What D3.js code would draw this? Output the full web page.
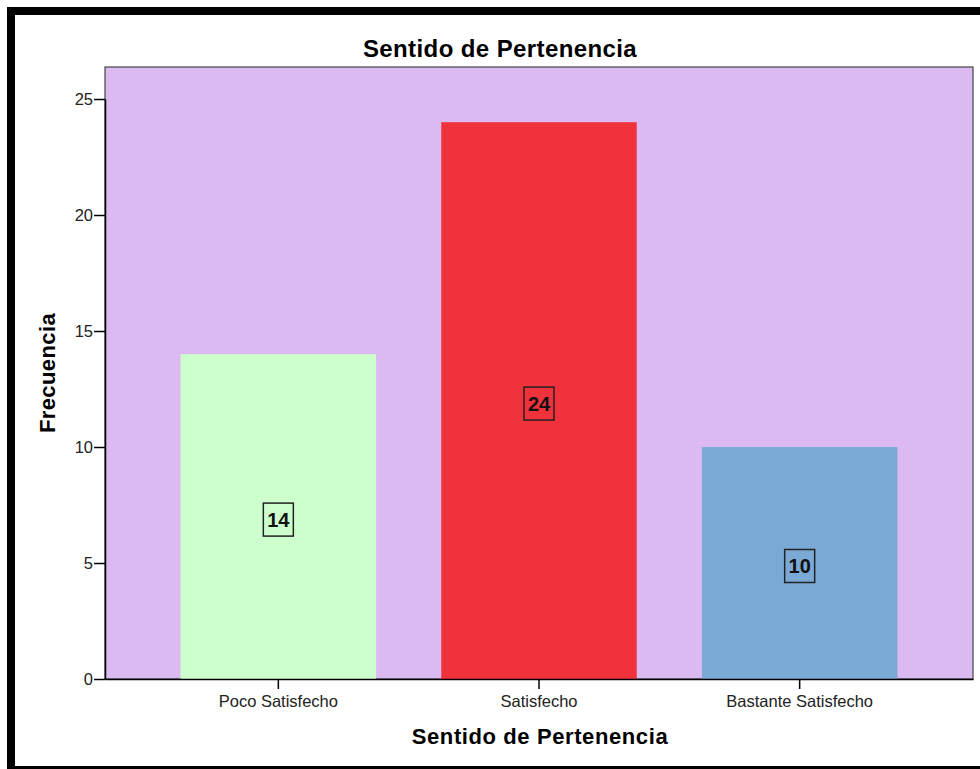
<!DOCTYPE html>
<html>
<head>
<meta charset="utf-8">
<script src="https://cdn.jsdelivr.net/npm/d3@7"></script>
<style>
  body { margin: 0; background: #fff; }
  svg { display: block; font-family: "Liberation Sans", Arial, sans-serif; }
</style>
</head>
<body>
<div id="chart"></div>
<script>
// data
var categories = ["Poco Satisfecho", "Satisfecho", "Bastante Satisfecho"];
var values = [14, 24, 10];
var barColors = ["#ccffcc", "#f0323c", "#7ba9d6"];
var yTicks = [0, 5, 10, 15, 20, 25];

var W = 980, H = 769;
// plot area edges (avoid the name "top", it's window.top)
var pLeft = 105, pRight = 973, pTop = 67, pBottom = 679;

var svg = d3.select("#chart").append("svg")
    .attr("width", W)
    .attr("height", H);

// outer frame: thick top and left, thin bottom, none on the right
svg.append("rect")
    .attr("x", 7).attr("y", 7)
    .attr("width", W - 7).attr("height", 8)
    .attr("fill", "#000");
svg.append("rect")
    .attr("x", 7).attr("y", 7)
    .attr("width", 8).attr("height", H - 7)
    .attr("fill", "#000");
svg.append("rect")
    .attr("x", 7).attr("y", 766)
    .attr("width", W - 7).attr("height", 3)
    .attr("fill", "#000");

var x = d3.scaleBand()
    .domain(categories)
    .range([pLeft, pRight])
    .paddingInner(0.25)
    .paddingOuter(0.29);

var y = d3.scaleLinear()
    .domain([0, 25])
    .range([pBottom, 99]);

// plot background
svg.append("rect")
    .attr("x", pLeft).attr("y", pTop)
    .attr("width", pRight - pLeft).attr("height", pBottom - pTop)
    .attr("fill", "#dcb9f1")
    .attr("stroke", "#444")
    .attr("stroke-width", 1.2);

// bars
svg.selectAll(".bar")
    .data(values)
    .enter().append("rect")
    .attr("class", "bar")
    .attr("x", function(d, i) { return x(categories[i]); })
    .attr("y", function(d) { return y(d); })
    .attr("width", x.bandwidth())
    .attr("height", function(d) { return pBottom - y(d); })
    .attr("fill", function(d, i) { return barColors[i]; });

// bar labels (boxed), sitting a little under the middle of the bar
var lab = svg.selectAll(".lab")
    .data(values)
    .enter().append("g")
    .attr("class", "lab")
    .attr("transform", function(d, i) {
        return "translate(" + (x(categories[i]) + x.bandwidth() / 2) + "," + (y(d / 2) + 3) + ")";
    });
lab.append("rect")
    .attr("x", -15).attr("y", -16.5)
    .attr("width", 30).attr("height", 33)
    .attr("fill", "none")
    .attr("stroke", "#222")
    .attr("stroke-width", 1.5);
lab.append("text")
    .attr("text-anchor", "middle")
    .attr("dy", "0.36em")
    .style("font-size", "20px")
    .style("font-weight", "bold")
    .style("fill", "#111")
    .text(function(d) { return d; });

// axes
var yAxis = svg.append("g")
    .attr("transform", "translate(" + pLeft + ",0)")
    .call(d3.axisLeft(y).tickValues(yTicks).tickSize(11).tickSizeOuter(0).tickPadding(1));
var xAxis = svg.append("g")
    .attr("transform", "translate(0," + pBottom + ")")
    .call(d3.axisBottom(x).tickSize(10).tickSizeOuter(0).tickPadding(6));

[yAxis, xAxis].forEach(function(a) {
    a.select(".domain").attr("stroke", "#000").attr("stroke-width", 1.5);
    a.selectAll(".tick line").attr("stroke", "#000").attr("stroke-width", 1.5);
    a.selectAll("text").style("font-size", "16.5px").style("fill", "#222")
        .style("font-family", "'Liberation Sans', Arial, sans-serif");
});

// titles
svg.append("text")
    .attr("x", 500).attr("y", 57)
    .attr("text-anchor", "middle")
    .style("font-size", "24px").style("font-weight", "bold")
    .style("letter-spacing", "0.4px")
    .text("Sentido de Pertenencia");

svg.append("text")
    .attr("x", 540).attr("y", 744)
    .attr("text-anchor", "middle")
    .style("font-size", "22px").style("font-weight", "bold")
    .style("letter-spacing", "0.6px")
    .text("Sentido de Pertenencia");

svg.append("text")
    .attr("transform", "translate(55,373) rotate(-90)")
    .attr("text-anchor", "middle")
    .style("font-size", "22px").style("font-weight", "bold")
    .style("letter-spacing", "0.4px")
    .text("Frecuencia");
</script>
</body>
</html>
